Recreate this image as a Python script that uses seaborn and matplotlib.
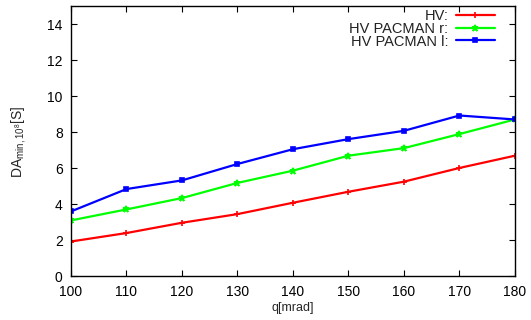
import matplotlib
matplotlib.use("Agg")
import matplotlib.pyplot as plt
import seaborn as sns
import pandas as pd

q_mrad = [100, 110, 120, 130, 140, 150, 160, 170, 180]
hv = [1.94, 2.41, 2.98, 3.46, 4.09, 4.70, 5.26, 6.02, 6.70]
hv_pacman_r = [3.11, 3.72, 4.35, 5.19, 5.87, 6.70, 7.12, 7.90, 8.71]
hv_pacman_l = [3.61, 4.85, 5.33, 6.24, 7.06, 7.62, 8.08, 8.93, 8.71]
series_names = ["HV:", "HV PACMAN r:", "HV PACMAN l:"]
x_ticks = [100, 110, 120, 130, 140, 150, 160, 170, 180]
y_ticks = [0, 2, 4, 6, 8, 10, 12, 14]

sns.set_theme(style="ticks")
plt.rcParams["font.family"] = ["Liberation Sans", "DejaVu Sans"]
plt.rcParams["mathtext.fontset"] = "custom"
plt.rcParams["mathtext.rm"] = "Liberation Sans"
plt.rcParams["mathtext.it"] = "Liberation Sans"

df = pd.DataFrame({
    "q": q_mrad * 3,
    "DA": hv + hv_pacman_r + hv_pacman_l,
    "series": [series_names[0]] * len(q_mrad)
              + [series_names[1]] * len(q_mrad)
              + [series_names[2]] * len(q_mrad),
})

fig = plt.figure(figsize=(5.31, 3.2), dpi=100)
ax = fig.add_axes([0.1337, 0.136, 0.836, 0.845])

palette = {series_names[0]: "#ff0000", series_names[1]: "#00ff00", series_names[2]: "#0000ff"}
markers = {series_names[0]: "+", series_names[1]: "*", series_names[2]: "s"}
sizes = {series_names[0]: 4, series_names[1]: 5, series_names[2]: 3.5}

for name in series_names:
    sub = df[df["series"] == name]
    sns.lineplot(data=sub, x="q", y="DA", ax=ax, color=palette[name],
                 marker=markers[name], markersize=sizes[name],
                 markeredgecolor=palette[name], markeredgewidth=1.2,
                 linewidth=1.6, label=name)

ax.set_xlim(100, 180)
ax.set_ylim(0, 15)
ax.set_xticks(x_ticks)
ax.set_yticks(y_ticks)
ax.tick_params(direction="in", top=True, right=True, length=4, width=0.8,
               labelsize=10, colors="black")
ax.tick_params(axis="x", pad=6)
ax.tick_params(axis="y", pad=6)
for s in ax.spines.values():
    s.set_linewidth(1.0)
    s.set_color("black")

ax.set_xlabel("q[mrad]", fontsize=9, labelpad=2)
ax.set_ylabel(r"DA$_{\mathrm{min,10^{8}}}$[S]", fontsize=10, labelpad=14)

leg = ax.legend(loc="upper right", frameon=False, markerfirst=False,
                fontsize=10.5, handlelength=2.7, borderaxespad=0.2,
                labelspacing=-0.1, handletextpad=0.5,
                bbox_to_anchor=(0.975, 1.02))
for t in leg.get_texts():
    t.set_ha("right")
    t.set_color("#222222")

fig.savefig("out.png", dpi=100)
